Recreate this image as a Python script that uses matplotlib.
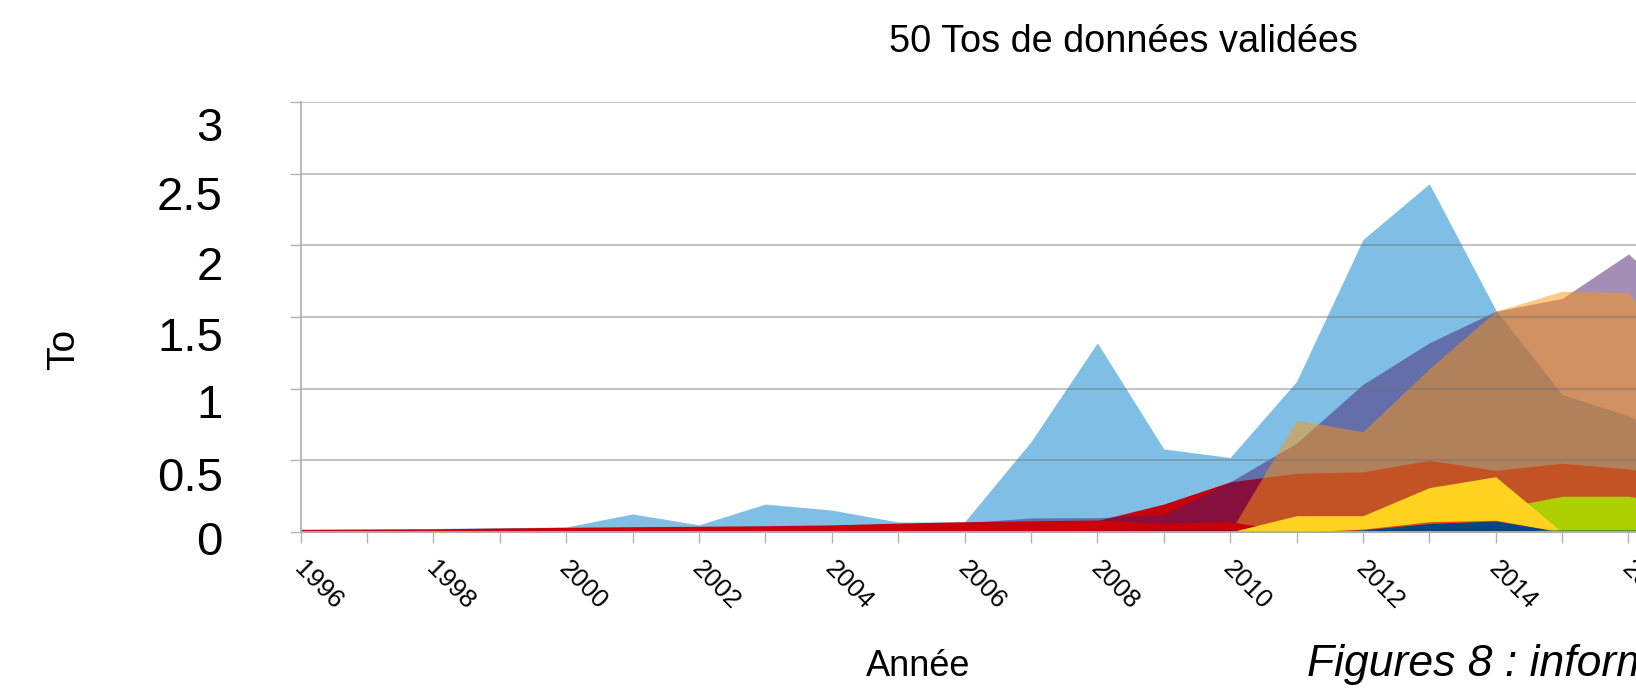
#!/usr/bin/env python3
"""
Overlapping (non-stacked) area chart of validated data volume per year.
"""

import matplotlib
matplotlib.use('Agg')
import matplotlib.pyplot as plt
from matplotlib.transforms import ScaledTranslation

plt.rcParams['font.family'] = ['Liberation Sans', 'DejaVu Sans']

years = list(range(1996, 2018))

# series values (To), one entry per year 1996..2017
light_blue = [0.02, 0.022, 0.025, 0.03, 0.035, 0.126, 0.05, 0.195, 0.153, 0.07, 0.07,
              0.63, 1.32, 0.58, 0.52, 1.05, 2.04, 2.43, 1.55, 0.96, 0.81, 0.55]
red_back = [0.01, 0.01, 0.01, 0.01, 0.01, 0.01, 0.01, 0.01, 0.01, 0.01, 0.01,
            0.05, 0.08, 0.195, 0.35, 0.41, 0.42, 0.50, 0.43, 0.48, 0.44, 0.36]
purple = [0.01, 0.012, 0.014, 0.018, 0.022, 0.027, 0.03, 0.034, 0.04, 0.05, 0.065,
          0.098, 0.10, 0.12, 0.35, 0.62, 1.03, 1.32, 1.54, 1.63, 1.94, 1.52]
orange = [0, 0, 0, 0, 0, 0, 0, 0, 0, 0, 0,
          0, 0, 0, 0, 0.78, 0.70, 1.14, 1.54, 1.68, 1.67, 1.0]
red_band = [0.018, 0.02, 0.022, 0.028, 0.033, 0.037, 0.04, 0.044, 0.05, 0.062, 0.072,
            0.078, 0.084, 0.062, 0.072, 0, 0, 0, 0, 0, 0, 0]
maroon = [0, 0, 0, 0, 0, 0, 0, 0, 0, 0, 0,
          0, 0.012, 0.015, 0.015, 0, 0, 0, 0, 0, 0, 0]
lime = [0, 0, 0, 0, 0, 0, 0, 0, 0, 0, 0,
        0, 0, 0, 0, 0, 0, 0, 0.16, 0.25, 0.25, 0.17]
yellow = [0, 0, 0, 0, 0, 0, 0, 0, 0, 0, 0,
          0, 0, 0, 0, 0.114, 0.114, 0.31, 0.386, 0, 0, 0]
orange_red = [0, 0, 0, 0, 0, 0, 0, 0, 0, 0, 0,
              0, 0, 0, 0, 0, 0.02, 0.072, 0.082, 0, 0, 0]
dark_blue = [0, 0, 0, 0, 0, 0, 0, 0, 0, 0, 0,
             0, 0, 0, 0, 0, 0.015, 0.06, 0.077, 0, 0, 0]
green = [0, 0, 0, 0, 0, 0, 0, 0, 0, 0, 0,
         0, 0, 0, 0, 0, 0, 0, 0, 0.018, 0.018, 0.018]

y_ticks = [0, 0.5, 1, 1.5, 2, 2.5, 3]
y_tick_labels = ['0', '0.5', '1', '1.5', '2', '2.5', '3']

fig = plt.figure(figsize=(16.36, 6.95), dpi=100)
ax = fig.add_axes([0.1837, 0.2345, 0.8523, 0.6187])

# back to front
layers = [
    (light_blue, '#7fbfe6', 1.0),
    (red_back, '#c5000b', 1.0),
    (purple, '#4b1f6f', 0.5),
    (orange, '#ff950e', 0.5),
    (red_band, '#c9000b', 1.0),
    (maroon, '#7e0021', 1.0),
    (lime, '#aecf00', 1.0),
    (yellow, '#ffd320', 1.0),
    (orange_red, '#ff420e', 1.0),
    (dark_blue, '#004586', 1.0),
    (green, '#579d1c', 1.0),
]
for i, (vals, col, alpha) in enumerate(layers):
    ax.fill_between(years, 0, vals, color=col, alpha=alpha, linewidth=0, zorder=2 + i * 0.01)

ax.set_xlim(1996, 2017)
ax.set_ylim(0, 3)

ax.set_yticks(y_ticks)
ax.set_yticklabels(y_tick_labels)
ax.set_xticks(range(1996, 2018, 2))
ax.set_xticks(range(1996, 2018), minor=True)

ax.yaxis.grid(True, color='#6e6e6e', alpha=0.45, linewidth=1.3, zorder=3)
ax.set_axisbelow(False)

for side in ['top', 'right']:
    ax.spines[side].set_visible(False)
for side in ['left', 'bottom']:
    ax.spines[side].set_color('#b3b3b3')
    ax.spines[side].set_linewidth(1.3)
    ax.spines[side].set_zorder(4)

ax.tick_params(axis='both', which='both', direction='out', length=8, width=1,
               color='#b3b3b3')
ax.tick_params(axis='y', labelsize=34, pad=48)
ax.tick_params(axis='x', labelsize=18.5, pad=10)

plt.setp(ax.get_xticklabels(), rotation=-45, ha='left', va='top',
         rotation_mode='anchor')
for lbl in ax.get_xticklabels():
    lbl.set_transform(lbl.get_transform() + ScaledTranslation(4 / 72, 0, fig.dpi_scale_trans))

# LibreOffice places the value labels a bit below their grid lines
y_label_drop = [4, 10, 9, 12, 13, 14, 16]
for lbl, drop in zip(ax.get_yticklabels(), y_label_drop):
    lbl.set_transform(lbl.get_transform() + ScaledTranslation(0, -drop / 72, fig.dpi_scale_trans))

fig.text(1123.5 / 1636, 1 - 52 / 695, '50 Tos de données validées', fontsize=27.3,
         ha='center', va='baseline')
fig.text(64 / 1636, 1 - 349.5 / 695, 'To', fontsize=28, rotation=90,
         ha='center', va='center')
fig.text(918 / 1636, 19 / 695, 'Année', fontsize=26, ha='center', va='baseline')
fig.text(1307 / 1636, 19 / 695, 'Figures 8 : informations', fontsize=32,
         style='italic', ha='left', va='baseline')

plt.savefig('out.png', dpi=100)
